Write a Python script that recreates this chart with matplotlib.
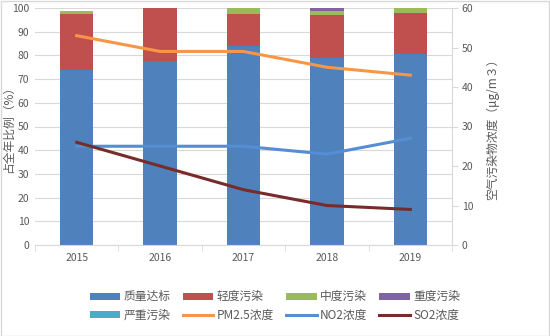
import numpy as np
import matplotlib.pyplot as plt
from matplotlib.patches import Rectangle

plt.rcParams['font.family'] = ['Noto Sans CJK SC', 'DejaVu Sans']

# ── Data ───────────────────────────────────────────────────────────────────────
years = ["2015", "2016", "2017", "2018", "2019"]
good     = [74.0, 77.8, 84.0, 79.1, 80.8]   # 质量达标
light    = [23.3, 22.2, 13.3, 17.9, 17.0]   # 轻度污染
moderate = [1.4, 0.0, 2.7, 1.6, 2.2]        # 中度污染
heavy    = [0.0, 0.0, 0.0, 1.4, 0.0]        # 重度污染
severe   = [0.0, 0.0, 0.0, 0.0, 0.0]        # 严重污染
pm25 = [53, 49, 49, 45, 43]
no2  = [25, 25, 25, 23, 27]
so2  = [26, 20, 14, 10, 9]

BAR_COLORS = ["#4F81BD", "#C0504D", "#9BBB59", "#8064A2", "#4BACC6"]
BAR_LABELS = ["质量达标", "轻度污染", "中度污染", "重度污染", "严重污染"]
TXT = "#595959"
GRID = "#D9D9D9"

# ── Figure ─────────────────────────────────────────────────────────────────────
fig = plt.figure(figsize=(5.5, 3.36), dpi=100)
ax = fig.add_axes([35 / 550, 1 - 245 / 336, 417 / 550, 237 / 336])
ax2 = ax.twinx()

x = np.arange(len(years))
bottom = np.zeros(len(years))
handles = []
for vals, col, lab in zip([good, light, moderate, heavy, severe], BAR_COLORS, BAR_LABELS):
    h = ax.bar(x, vals, width=0.4, bottom=bottom, color=col, label=lab, zorder=2)
    bottom += np.array(vals)
    handles.append(h)

l1, = ax2.plot(x, pm25, color="#F79646", lw=2.2, label="PM2.5浓度", zorder=3)
l2, = ax2.plot(x, no2, color="#558ED5", lw=2.2, label="NO2浓度", zorder=3)
l3, = ax2.plot(x, so2, color="#772C2A", lw=2.2, label="SO2浓度", zorder=3)

ax.set_xlim(-0.5, len(years) - 0.5)
ax.set_ylim(0, 100)
ax.set_yticks(range(0, 101, 10))
ax2.set_ylim(0, 60)
ax2.set_yticks(range(0, 61, 10))

ax.yaxis.grid(True, color=GRID, lw=0.8, zorder=0)
ax.set_axisbelow(True)
for a in (ax, ax2):
    for s in ("top", "left"):
        a.spines[s].set_visible(False)
ax.spines["right"].set_visible(False)
ax2.spines["right"].set_color(GRID)
ax2.spines["bottom"].set_visible(False)
ax.spines["bottom"].set_color(GRID)

ax.set_xticks(x)
ax.set_xticklabels(years)
ax.set_xticks(np.arange(-0.5, len(years)), minor=True)
ax.tick_params(axis="x", which="major", length=0, labelsize=7.5, colors=TXT, pad=6)
ax.tick_params(axis="x", which="minor", length=4, color=GRID)
ax.tick_params(axis="y", length=0, labelsize=7.5, colors=TXT, pad=4)
ax2.tick_params(axis="y", length=4, color=GRID, labelsize=7.5, colors=TXT, pad=3)

ax.set_ylabel("占全年比例（%）", fontsize=8.5, color=TXT)
ax.yaxis.set_label_coords(-0.048, 0.5)
ax2.set_ylabel("空气污染物浓度（μg/m３）", fontsize=8.5, color=TXT)
ax2.yaxis.set_label_coords(1.08, 0.5)

# legend filled row by row (matplotlib fills columns first)
items = handles + [l1, l2, l3]
labels = BAR_LABELS + ["PM2.5浓度", "NO2浓度", "SO2浓度"]
order = [0, 4, 1, 5, 2, 6, 3, 7]
fig.legend([items[i] for i in order], [labels[i] for i in order],
           loc="center", bbox_to_anchor=(0.5, 1 - 306 / 336), ncol=4, frameon=False,
           fontsize=8.5, labelcolor=TXT, handlelength=2.6, handleheight=0.5,
           handletextpad=0.3, columnspacing=1.0, labelspacing=0.45)

fig.patches.append(Rectangle((0.001, 0.001), 0.997, 0.997, transform=fig.transFigure,
                             fill=False, edgecolor=GRID, lw=1))

plt.savefig("out.png", dpi=100)
